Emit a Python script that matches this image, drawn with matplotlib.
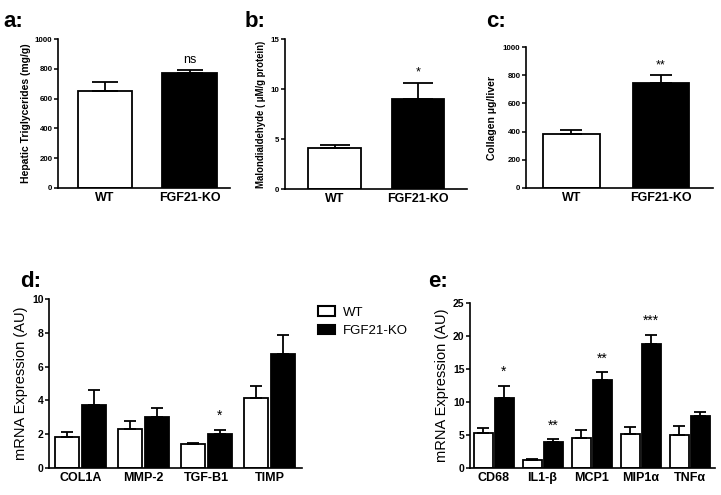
import matplotlib
matplotlib.use("Agg")
import matplotlib.pyplot as plt
import numpy as np
from matplotlib.patches import Patch

plt.rcParams["font.family"] = ["Liberation Sans", "DejaVu Sans"]

# ---- data ----
groups_top = ["WT", "FGF21-KO"]

tg_mean = [653, 774]
tg_err = [58, 18]
tg_sig = ["", "ns"]

mda_mean = [4.1, 9.0]
mda_err = [0.35, 1.6]
mda_sig = ["", "*"]

col_mean = [383, 742]
col_err = [28, 57]
col_sig = ["", "**"]

fib_genes = ["COL1A", "MMP-2", "TGF-B1", "TIMP"]
fib_wt = [1.84, 2.30, 1.40, 4.16]
fib_wt_err = [0.30, 0.47, 0.08, 0.69]
fib_ko = [3.72, 3.03, 2.00, 6.73]
fib_ko_err = [0.88, 0.51, 0.24, 1.15]
fib_sig = ["", "", "*", ""]

inf_genes = ["CD68", "IL1-β", "MCP1", "MIP1α", "TNFα"]
inf_wt = [5.28, 1.18, 4.60, 5.17, 5.07]
inf_wt_err = [0.77, 0.20, 1.20, 0.98, 1.23]
inf_ko = [10.55, 3.89, 13.37, 18.85, 7.84]
inf_ko_err = [1.90, 0.46, 1.13, 1.35, 0.71]
inf_sig = ["*", "**", "**", "***", ""]

W, H = 721, 495
fig = plt.figure(figsize=(W / 100, H / 100), dpi=100)


def px_axes(left, top, right, bottom):
    return fig.add_axes([left / W, 1 - bottom / H, (right - left) / W, (bottom - top) / H])


def style(ax, tick_size, xtick_size):
    for s in ("top", "right"):
        ax.spines[s].set_visible(False)
    for s in ("left", "bottom"):
        ax.spines[s].set_linewidth(1.2)
    ax.tick_params(axis="y", direction="out", length=3, width=1.1, pad=1,
                   labelsize=tick_size)
    ax.tick_params(axis="x", length=0, pad=3, labelsize=xtick_size)
    for lab in ax.get_yticklabels() + ax.get_xticklabels():
        lab.set_fontweight("bold")


def two_bar(ax, mean, err, sig, width, cap, ylim, yticks, ylabel, ylabsize, labelpad, xlim):
    x = np.arange(len(groups_top))
    ax.bar(x, mean, width=width, color=["white", "black"], edgecolor="black",
           linewidth=1.3, zorder=2)
    ax.errorbar(x, mean, yerr=[np.zeros(len(err)), err], fmt="none", ecolor="black",
                elinewidth=1.3, capsize=cap, capthick=1.3, zorder=3)
    for xi, m, e, s in zip(x, mean, err, sig):
        if s:
            ax.annotate(s, (xi, m + e), xytext=(0, 3), textcoords="offset points",
                        ha="center", va="bottom", fontsize=9)
    ax.set_xticks(x)
    ax.set_xticklabels(groups_top)
    ax.set_xlim(*xlim)
    ax.set_ylim(*ylim)
    ax.set_yticks(yticks)
    ax.set_ylabel(ylabel, fontsize=ylabsize, fontweight="bold", labelpad=labelpad)
    style(ax, 5.7, 9)


def grouped(ax, genes, wt, wt_err, ko, ko_err, sig, width, off, cap, ylim, yticks, xlim):
    x = np.arange(len(genes))
    ax.bar(x - off, wt, width=width, color="white", edgecolor="black", linewidth=1.3, zorder=2)
    ax.bar(x + off, ko, width=width, color="black", edgecolor="black", linewidth=1.3, zorder=2)
    z = np.zeros(len(genes))
    ax.errorbar(x - off, wt, yerr=[z, wt_err], fmt="none", ecolor="black",
                elinewidth=1.3, capsize=cap, capthick=1.3, zorder=3)
    ax.errorbar(x + off, ko, yerr=[z, ko_err], fmt="none", ecolor="black",
                elinewidth=1.3, capsize=cap, capthick=1.3, zorder=3)
    for xi, m, e, s in zip(x + off, ko, ko_err, sig):
        if s:
            ax.annotate(s, (xi, m + e), xytext=(0, 5), textcoords="offset points",
                        ha="center", va="bottom", fontsize=10)
    ax.set_xticks(x)
    ax.set_xticklabels(genes)
    ax.set_xlim(*xlim)
    ax.set_ylim(*ylim)
    ax.set_yticks(yticks)
    ax.set_ylabel("mRNA Expression (AU)", fontsize=10.5, labelpad=3)
    style(ax, 7.5, 9)


# a
ax_a = px_axes(58, 39, 230, 188)
two_bar(ax_a, tg_mean, tg_err, tg_sig, 0.64, 9.5, (0, 1000), np.arange(0, 1001, 200),
        "Hepatic Triglycerides (mg/g)", 7.5, 3, (-0.556, 1.479))

# b
ax_b = px_axes(285, 39, 467, 189)
two_bar(ax_b, mda_mean, mda_err, mda_sig, 0.63, 10.5, (0, 15), [0, 5, 10, 15],
        "Malondialdehyde ( μM/g protein)", 6.9, 3, (-0.593, 1.587))

# c
ax_c = px_axes(526, 47, 713, 188)
two_bar(ax_c, col_mean, col_err, col_sig, 0.63, 8, (0, 1000), np.arange(0, 1001, 200),
        "Collagen μg/liver", 7.5, 4, (-0.508, 1.581))

# d
ax_d = px_axes(49, 299, 302, 468)
grouped(ax_d, fib_genes, fib_wt, fib_wt_err, fib_ko, fib_ko_err, fib_sig,
        0.38, 0.214, 4, (0, 10), np.arange(0, 11, 2), (-0.5, 3.516))

# e
ax_e = px_axes(470, 303, 715, 468)
grouped(ax_e, inf_genes, inf_wt, inf_wt_err, inf_ko, inf_ko_err, inf_sig,
        0.388, 0.214, 4.5, (0, 25), np.arange(0, 26, 5), (-0.48, 4.52))

# legend
handles = [Patch(facecolor="white", edgecolor="black", linewidth=1.5, label="WT"),
           Patch(facecolor="black", edgecolor="black", linewidth=1.5, label="FGF21-KO")]
fig.legend(handles=handles, loc="upper left", bbox_to_anchor=(313 / W, 1 - 301 / H),
           frameon=False, fontsize=9.5, handlelength=1.3, handleheight=0.75,
           handletextpad=0.6, labelspacing=0.45, borderaxespad=0)

# panel letters
for txt, xp, yp in [("a:", 3, 27), ("b:", 245, 27), ("c:", 486, 27),
                    ("d:", 20, 287), ("e:", 428, 287)]:
    fig.text(xp / W, 1 - yp / H, txt, fontsize=16, fontweight="bold", va="baseline")

fig.savefig("out.png", dpi=100)
